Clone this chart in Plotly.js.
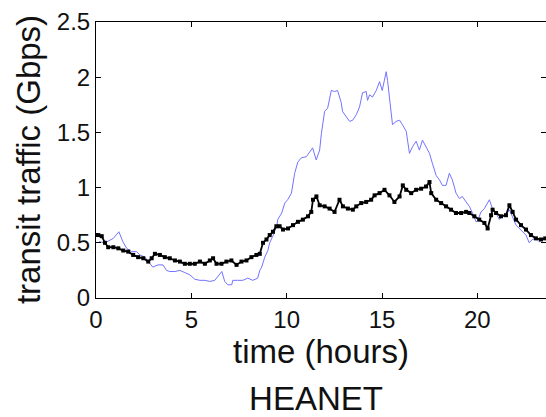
<!DOCTYPE html>
<html>
<head>
<meta charset="utf-8">
<script src="https://cdn.plot.ly/plotly-3.0.1.min.js"></script>
<style>
html,body{margin:0;padding:0;background:#fff;overflow:hidden;}
#chart{width:546px;height:417px;}
</style>
</head>
<body>
<div id="chart"></div>
<script>
// Blue (thin line) series: time in hours, traffic in Gbps
const blueHours = [0.16,0.47,0.91,1.20,1.41,1.61,1.87,2.13,2.30,2.57,2.74,2.98,3.25,3.51,3.70,3.87,4.14,4.40,4.66,4.92,5.18,5.45,5.71,5.97,6.23,6.49,6.60,6.75,6.91,7.12,7.17,7.43,7.70,7.96,8.22,8.48,8.59,8.69,8.85,9.01,9.11,9.27,9.48,9.53,9.74,9.90,10.05,10.25,10.42,10.58,10.77,11.03,11.29,11.36,11.55,11.73,11.82,11.99,12.15,12.34,12.51,12.67,12.86,12.93,13.13,13.30,13.46,13.65,13.82,13.98,14.17,14.24,14.35,14.50,14.70,14.87,15.01,15.13,15.22,15.29,15.39,15.48,15.55,15.74,15.92,16.07,16.27,16.44,16.60,16.79,16.96,17.12,17.31,17.49,17.64,17.84,18.01,18.17,18.36,18.53,18.69,18.88,19.06,19.21,19.41,19.58,19.74,19.93,20.02,20.19,20.37,20.52,20.63,20.79,20.98,21.15,21.31,21.50,21.68,21.83,22.03,22.20,22.36,22.55,22.72,22.88,23.07,23.25,23.40,23.56];
const blueGbps = [0.51,0.50,0.54,0.60,0.51,0.45,0.42,0.42,0.39,0.37,0.33,0.28,0.30,0.30,0.25,0.24,0.24,0.25,0.23,0.21,0.17,0.16,0.16,0.15,0.16,0.21,0.24,0.15,0.12,0.12,0.16,0.16,0.16,0.18,0.16,0.18,0.25,0.28,0.37,0.43,0.50,0.56,0.65,0.71,0.77,0.86,0.89,0.95,1.13,1.23,1.27,1.28,1.34,1.36,1.25,1.34,1.49,1.69,1.72,1.88,1.87,1.88,1.77,1.69,1.64,1.60,1.61,1.66,1.73,1.86,1.87,1.79,1.84,1.82,1.88,1.96,1.88,2.00,2.05,1.97,1.79,1.64,1.57,1.60,1.61,1.57,1.51,1.31,1.37,1.42,1.34,1.43,1.37,1.31,1.22,1.11,1.07,1.02,1.02,1.13,1.07,0.95,0.90,0.92,0.87,0.83,0.77,0.69,0.70,0.78,0.81,0.86,0.89,0.81,0.77,0.71,0.74,0.75,0.80,0.74,0.66,0.63,0.60,0.57,0.50,0.53,0.54,0.51,0.53,0.54];

// Black (dotted) series
const blackHours = [0,0.12,0.30,0.47,0.64,0.91,1.17,1.43,1.69,1.95,2.21,2.48,2.74,2.92,3.09,3.35,3.61,3.87,4.14,4.40,4.66,4.92,5.18,5.45,5.71,5.97,6.14,6.32,6.58,6.84,7.10,7.37,7.63,7.89,8.15,8.41,8.59,8.76,8.94,9.11,9.28,9.46,9.63,9.81,10.07,10.33,10.59,10.85,11.12,11.29,11.38,11.56,11.73,11.99,12.25,12.51,12.77,12.95,13.21,13.47,13.65,13.91,14.17,14.43,14.61,14.87,15.13,15.39,15.65,15.92,16.09,16.27,16.53,16.79,17.05,17.31,17.49,17.58,17.84,18.10,18.36,18.62,18.88,19.15,19.41,19.58,19.84,20.10,20.37,20.54,20.72,20.80,20.98,21.24,21.50,21.68,21.85,22.03,22.29,22.55,22.81,23.07,23.34,23.56];
const blackGbps = [0.57,0.57,0.56,0.50,0.46,0.46,0.45,0.43,0.42,0.39,0.37,0.36,0.33,0.36,0.40,0.39,0.37,0.36,0.34,0.33,0.31,0.31,0.31,0.33,0.31,0.34,0.36,0.31,0.31,0.33,0.34,0.30,0.33,0.34,0.37,0.39,0.40,0.50,0.53,0.57,0.60,0.65,0.65,0.62,0.63,0.66,0.69,0.71,0.74,0.78,0.89,0.92,0.84,0.83,0.81,0.78,0.89,0.83,0.81,0.80,0.83,0.86,0.87,0.89,0.93,0.95,0.98,0.93,0.87,0.92,1.02,0.98,0.95,0.98,0.99,1.01,1.05,0.95,0.89,0.86,0.83,0.80,0.77,0.77,0.78,0.77,0.74,0.71,0.68,0.63,0.75,0.80,0.77,0.74,0.75,0.84,0.78,0.71,0.66,0.62,0.57,0.54,0.53,0.54];

const xTickVals = [0,5,10,15,20];
const yTickVals = [0,0.5,1,1.5,2,2.5];
const yTickText = ['0','0.5','1','1.5','2','2.5'];

const FONT = 'Liberation Sans, Arial, sans-serif';

const traces = [
  {x: blueHours, y: blueGbps, type: 'scatter', mode: 'lines',
   line: {color: '#7373ff', width: 1}, hoverinfo: 'skip'},
  {x: blackHours, y: blackGbps, type: 'scatter', mode: 'lines+markers',
   line: {color: '#000', width: 1.8}, marker: {color: '#000', size: 4, symbol: 'square'}, hoverinfo: 'skip'},
  {x: [0], y: [0], yaxis: 'y2', type: 'scatter', mode: 'markers', marker: {opacity: 0}, hoverinfo: 'skip'}
];

const layout = {
  width: 546, height: 417,
  margin: {l: 96, r: 0, t: 22, b: 119},
  paper_bgcolor: '#fff', plot_bgcolor: '#fff',
  showlegend: false,
  font: {family: FONT, color: '#111'},
  title: {text: 'HEANET', font: {family: FONT, size: 33, color: '#111'},
          x: 0.489, xanchor: 'center', xref: 'paper', y: 0.045, yanchor: 'middle', yref: 'container'},
  annotations: [{
    text: 'transit traffic (Gbps)', textangle: -90, showarrow: false,
    xref: 'paper', yref: 'paper', x: -0.151, y: 0.5, xanchor: 'center', yanchor: 'middle',
    font: {family: FONT, size: 33, color: '#111'}
  }],
  xaxis: {
    range: [0, 23.6], tickvals: xTickVals, ticks: 'inside', ticklen: 5, tickcolor: '#000',
    showline: true, linecolor: '#000', linewidth: 1, mirror: 'ticks',
    showgrid: false, zeroline: false,
    tickfont: {family: FONT, size: 24, color: '#111'},
    title: {text: 'time (hours)', font: {family: FONT, size: 33, color: '#111'}, standoff: 4}
  },
  yaxis: {
    range: [0, 2.5], tickvals: yTickVals, ticktext: yTickText, ticks: 'inside', ticklen: 5, tickcolor: '#000',
    showline: true, linecolor: '#000', linewidth: 1, mirror: false,
    showgrid: false, zeroline: false,
    tickfont: {family: FONT, size: 24, color: '#111'}
  },
  yaxis2: {
    overlaying: 'y', side: 'right', range: [0, 2.5], tickvals: yTickVals,
    ticks: 'inside', ticklen: 5, tickcolor: '#000', showticklabels: false,
    showline: false, showgrid: false, zeroline: false
  }
};

Plotly.newPlot('chart', traces, layout, {staticPlot: true, displayModeBar: false});
</script>
</body>
</html>
